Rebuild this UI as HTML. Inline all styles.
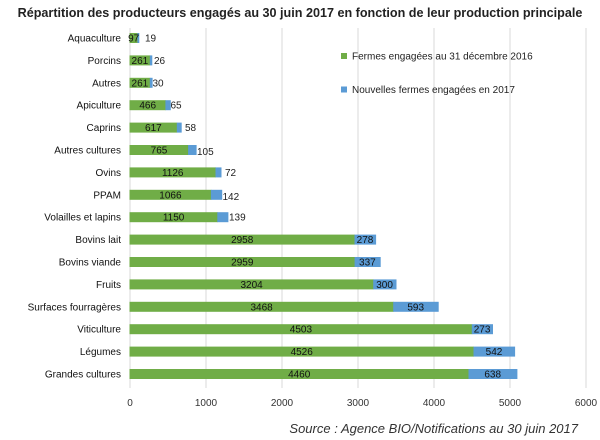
<!DOCTYPE html>
<html><head><meta charset="utf-8"><style>
html,body{margin:0;padding:0;background:#fff;}
svg{display:block;font-family:"Liberation Sans",sans-serif;}
</style></head><body>
<svg width="600" height="440" viewBox="0 0 600 440" xmlns="http://www.w3.org/2000/svg">
<rect width="600" height="440" fill="#fff"/>
<text x="300" y="17" text-anchor="middle" font-size="12.6" font-weight="bold" fill="#222">Répartition des producteurs engagés au 30 juin 2017 en fonction de leur production principale</text>
<g stroke="#d9d9d9" stroke-width="1">
<line x1="130" y1="28" x2="130" y2="388"/>
<line x1="206" y1="28" x2="206" y2="388"/>
<line x1="282" y1="28" x2="282" y2="388"/>
<line x1="358" y1="28" x2="358" y2="388"/>
<line x1="434" y1="28" x2="434" y2="388"/>
<line x1="510" y1="28" x2="510" y2="388"/>
<line x1="586" y1="28" x2="586" y2="388"/>
</g>
<g font-size="10" fill="#333" text-anchor="middle">
<text x="130" y="406">0</text><text x="206" y="406">1000</text><text x="282" y="406">2000</text><text x="358" y="406">3000</text><text x="434" y="406">4000</text><text x="510" y="406">5000</text><text x="586" y="406">6000</text>
</g>
<g font-size="10" fill="#111" text-anchor="end">
<text x="121" y="41.5">Aquaculture</text>
<text x="121" y="63.9">Porcins</text>
<text x="121" y="86.3">Autres</text>
<text x="121" y="108.7">Apiculture</text>
<text x="121" y="131.1">Caprins</text>
<text x="121" y="153.5">Autres cultures</text>
<text x="121" y="175.9">Ovins</text>
<text x="121" y="198.3">PPAM</text>
<text x="121" y="220.7">Volailles et lapins</text>
<text x="121" y="243.1">Bovins lait</text>
<text x="121" y="265.5">Bovins viande</text>
<text x="121" y="287.9">Fruits</text>
<text x="121" y="310.3">Surfaces fourragères</text>
<text x="121" y="332.7">Viticulture</text>
<text x="121" y="355.1">Légumes</text>
<text x="121" y="377.5">Grandes cultures</text>
</g>
<g fill="#70ad47" stroke="#70ad47" stroke-width="1">
<rect x="130" y="33.5" width="7.4" height="9"/>
<rect x="130" y="55.9" width="19.8" height="9"/>
<rect x="130" y="78.3" width="19.8" height="9"/>
<rect x="130" y="100.7" width="35.4" height="9"/>
<rect x="130" y="123.1" width="46.8" height="9"/>
<rect x="130" y="145.5" width="58.1" height="9"/>
<rect x="130" y="167.9" width="85.5" height="9"/>
<rect x="130" y="190.3" width="80.9" height="9"/>
<rect x="130" y="212.7" width="87.3" height="9"/>
<rect x="130" y="235.1" width="224.5" height="9"/>
<rect x="130" y="257.5" width="224.6" height="9"/>
<rect x="130" y="279.9" width="243.2" height="9"/>
<rect x="130" y="302.3" width="263.2" height="9"/>
<rect x="130" y="324.7" width="341.8" height="9"/>
<rect x="130" y="347.1" width="343.5" height="9"/>
<rect x="130" y="369.5" width="338.5" height="9"/>
</g>
<g fill="#5b9bd5" stroke="#5b9bd5" stroke-width="1">
<rect x="137.9" y="33.5" width="0.9" height="9"/>
<rect x="150.3" y="55.9" width="1.5" height="9"/>
<rect x="150.3" y="78.3" width="1.8" height="9"/>
<rect x="165.9" y="100.7" width="4.4" height="9"/>
<rect x="177.3" y="123.1" width="3.9" height="9"/>
<rect x="188.6" y="145.5" width="7.5" height="9"/>
<rect x="216" y="167.9" width="5" height="9"/>
<rect x="211.4" y="190.3" width="10.3" height="9"/>
<rect x="217.8" y="212.7" width="10.1" height="9"/>
<rect x="355" y="235.1" width="20.6" height="9"/>
<rect x="355.1" y="257.5" width="25.1" height="9"/>
<rect x="373.7" y="279.9" width="22.3" height="9"/>
<rect x="393.7" y="302.3" width="44.5" height="9"/>
<rect x="472.3" y="324.7" width="20.2" height="9"/>
<rect x="474" y="347.1" width="40.6" height="9"/>
<rect x="469" y="369.5" width="47.9" height="9"/>
</g>
<g font-size="10" fill="#111" text-anchor="middle">
<text x="133.7" y="41.5">97</text>
<text x="139.9" y="63.9">261</text>
<text x="139.9" y="86.3">261</text>
<text x="147.7" y="108.7">466</text>
<text x="153.4" y="131.1">617</text>
<text x="159" y="153.5">765</text>
<text x="172.7" y="175.9">1126</text>
<text x="170.4" y="198.3">1066</text>
<text x="173.6" y="220.7">1150</text>
<text x="242.2" y="243.1">2958</text>
<text x="242.3" y="265.5">2959</text>
<text x="251.6" y="287.9">3204</text>
<text x="261.6" y="310.3">3468</text>
<text x="300.9" y="332.7">4503</text>
<text x="301.7" y="355.1">4526</text>
<text x="299.2" y="377.5">4460</text>
<text x="365" y="243.1">278</text>
<text x="367.4" y="265.5">337</text>
<text x="384.6" y="287.9">300</text>
<text x="415.7" y="310.3">593</text>
<text x="482.1" y="332.7">273</text>
<text x="494" y="355.1">542</text>
<text x="492.7" y="377.5">638</text>
</g>
<g font-size="10" fill="#222" text-anchor="start">
<text x="145" y="41.5">19</text>
<text x="154" y="63.9">26</text>
<text x="152.5" y="86.3">30</text>
<text x="170.5" y="108.7">65</text>
<text x="185" y="131.1">58</text>
<text x="197" y="155">105</text>
<text x="225" y="175.9">72</text>
<text x="222.5" y="200">142</text>
<text x="229" y="220.7">139</text>
</g>
<rect x="341" y="53" width="6" height="6" fill="#70ad47"/>
<text x="352" y="59.5" font-size="10" fill="#222">Fermes engagées au  31 décembre 2016</text>
<rect x="341" y="86.5" width="6" height="6" fill="#5b9bd5"/>
<text x="352" y="93" font-size="10" fill="#222">Nouvelles fermes engagées en 2017</text>
<text x="578" y="433" text-anchor="end" font-size="13" font-style="italic" fill="#333">Source : Agence BIO/Notifications au 30 juin 2017</text>
</svg>
</body></html>
